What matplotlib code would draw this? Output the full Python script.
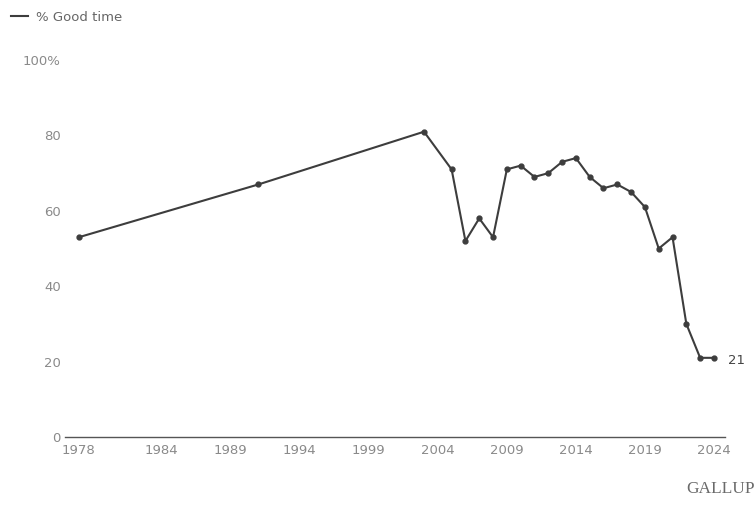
import matplotlib
matplotlib.use("Agg")
import matplotlib.pyplot as plt
from matplotlib.lines import Line2D

# Survey years and share saying it is a good time
years = [1978, 1991, 2003, 2005, 2006, 2007, 2008, 2009, 2010, 2011, 2012,
         2013, 2014, 2015, 2016, 2017, 2018, 2019, 2020, 2021, 2022, 2023, 2024]
good_time = [53, 67, 81, 71, 52, 58, 53, 71, 72, 69, 70,
             73, 74, 69, 66, 67, 65, 61, 50, 53, 30, 21, 21]

x_ticks = [1978, 1984, 1989, 1994, 1999, 2004, 2009, 2014, 2019, 2024]
y_ticks = [0, 20, 40, 60, 80, 100]
y_tick_labels = ["0", "20", "40", "60", "80", "100%"]
series_label = "% Good time"

line_color = "#3d3d3d"
text_color = "#8a8a8a"

fig = plt.figure(figsize=(7.56, 5.05), dpi=100)
ax = fig.add_axes([0.086, 0.1347, 0.873, 0.7463])

ax.plot(years, good_time, color=line_color, lw=1.5, marker="o", ms=3.5,
        markerfacecolor=line_color, markeredgecolor=line_color)

ax.set_xlim(1977.0, 2024.8)
ax.set_ylim(0, 100)
ax.set_xticks(x_ticks)
ax.set_xticklabels([str(y) for y in x_ticks])
ax.set_yticks(y_ticks)
ax.set_yticklabels(y_tick_labels)
ax.tick_params(axis="both", length=0, labelsize=9.5, colors=text_color)
ax.tick_params(axis="x", pad=5)
ax.tick_params(axis="y", pad=3)

for side in ("top", "right", "left"):
    ax.spines[side].set_visible(False)
ax.spines["bottom"].set_color("#555555")
ax.spines["bottom"].set_linewidth(1.0)

# End-of-series value label
ax.annotate(str(good_time[-1]), xy=(years[-1], good_time[-1]),
            xytext=(10, -2), textcoords="offset points",
            ha="left", va="center", fontsize=9.5, color="#444444")

# Legend in the top-left corner
handle = Line2D([0], [0], color=line_color, lw=1.5)
fig.legend([handle], [series_label], loc="upper left",
           bbox_to_anchor=(0.0, 1.0), frameon=False, fontsize=9.5,
           handlelength=1.3, handletextpad=0.6, labelcolor="#666666",
           borderaxespad=0.4)

fig.text(0.999, 0.015, "GALLUP", ha="right", va="bottom",
         fontsize=12.5, color="#6a6a6a", family="Liberation Serif")

fig.savefig("out.png", dpi=100, facecolor="white")
